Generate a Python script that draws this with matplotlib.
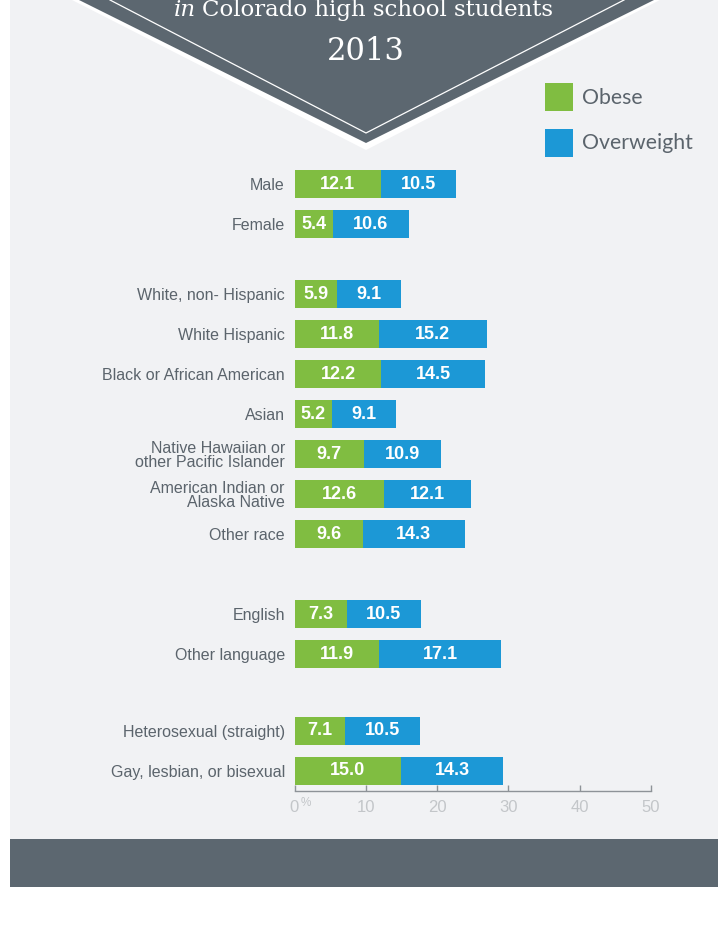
import matplotlib
matplotlib.use("Agg")
import matplotlib.pyplot as plt
from matplotlib.patches import Polygon, Rectangle
import numpy as np

# ---------------------------------------------------------
# DATA
# ---------------------------------------------------------
categories = [
    "Male", "Female",
    "White, non- Hispanic", "White Hispanic", "Black or African American",
    "Asian", "Native Hawaiian or\nother Pacific Islander",
    "American Indian or\nAlaska Native", "Other race",
    "English", "Other language",
    "Heterosexual (straight)", "Gay, lesbian, or bisexual",
]
obese = [12.1, 5.4, 5.9, 11.8, 12.2, 5.2, 9.7, 12.6, 9.6, 7.3, 11.9, 7.1, 15.0]
overweight = [10.5, 10.6, 9.1, 15.2, 14.5, 9.1, 10.9, 12.1, 14.3, 10.5, 17.1, 10.5, 14.3]
group_sizes = [2, 7, 2, 2]
x_ticks = [0, 10, 20, 30, 40, 50]

GREEN = "#80bd41"
BLUE = "#1c98d6"
DARK = "#5c6770"
BG = "#f1f2f4"
LABEL = "#5b646c"
TICK = "#c3c6c9"

# row positions: one unit per bar, extra space between groups
group_gaps = [0.75, 1.0, 0.92]
ypos = []
y = 0.0
for g, n in enumerate(group_sizes):
    for i in range(n):
        ypos.append(y)
        y += 1
    if g < len(group_gaps):
        y += group_gaps[g]
ypos = np.array(ypos)

W, H = 718, 930
fig = plt.figure(figsize=(W / 100, H / 100), dpi=100)
fig.patch.set_facecolor("white")

# ---------------------------------------------------------
# BACKGROUND / DECORATION (pixel coordinates)
# ---------------------------------------------------------
deco = fig.add_axes([0, 0, 1, 1], zorder=0)
deco.set_xlim(0, W)
deco.set_ylim(H, 0)
deco.axis("off")

deco.add_patch(Rectangle((10, 0), W - 10, 839, color=BG, lw=0))
deco.add_patch(Rectangle((10, 839), W - 10, 48, color=DARK, lw=0))

# banner triangle with white border and thin inner line
deco.add_patch(Polygon([(72, 0), (660, 0), (366, 150)], closed=True, color="white", lw=0))
deco.add_patch(Polygon([(79, 0), (654, 0), (366, 143)], closed=True, color=DARK, lw=0))
deco.plot([110, 366, 624], [0, 133, 0], color="white", lw=0.9)

deco.text(196, 16, "in", family="DejaVu Serif", style="italic", fontsize=16.5,
          color="white", ha="right", va="baseline")
deco.text(202, 16, "Colorado high school students", family="DejaVu Serif",
          fontsize=16.5, color="white", ha="left", va="baseline")
deco.text(366, 60, "2013", family="DejaVu Serif", fontsize=22, color="white",
          ha="center", va="baseline")

# legend
deco.add_patch(Rectangle((545, 83.5), 27.5, 27.5, color=GREEN, lw=0))
deco.add_patch(Rectangle((545, 129.5), 27.5, 27.5, color=BLUE, lw=0))
deco.text(582, 98, "Obese", family="Lato", fontsize=15.3, color=LABEL, va="center")
deco.text(582, 143, "Overweight", family="Lato", fontsize=15.3, color=LABEL, va="center")

# ---------------------------------------------------------
# BAR CHART
# ---------------------------------------------------------
row_px = 40.0
top_px, axis_px = 160, 790.7
first_px = 184
ax = fig.add_axes([294.5 / W, 1 - axis_px / H, 356.5 / W, (axis_px - top_px) / H], zorder=1)
ax.set_facecolor("none")

bar_h = 28 / row_px
b1 = ax.barh(ypos, obese, height=bar_h, color=GREEN, lw=0)
b2 = ax.barh(ypos, overweight, left=obese, height=bar_h, color=BLUE, lw=0)
for b in (b1, b2):
    ax.bar_label(b, fmt="{:.1f}", label_type="center", color="white",
                 fontsize=13, fontweight="bold", family="Liberation Sans")

ax.set_xlim(0, 50)
ax.set_ylim((axis_px - first_px) / row_px, (top_px - first_px) / row_px)

ax.set_yticks(ypos)
ax.set_yticklabels(categories, family="Liberation Sans", fontsize=11.5,
                   color=LABEL, linespacing=0.95)
ax.tick_params(axis="y", length=0, pad=7)

ax.set_xticks(x_ticks)
ax.set_xticklabels([str(t) for t in x_ticks], family="Liberation Sans",
                   fontsize=12, color=TICK)
ax.tick_params(axis="x", direction="in", length=4, width=1, color="#8e9398", pad=7)
ax.annotate("%", xy=(0, 0), xycoords=("data", "axes fraction"),
            xytext=(4.5, -9), textcoords="offset points", fontsize=8.5,
            color=TICK, family="Liberation Sans", va="center")

for s in ("top", "right", "left"):
    ax.spines[s].set_visible(False)
ax.spines["bottom"].set_color("#8e9398")
ax.spines["bottom"].set_linewidth(1)

plt.savefig("out.png", dpi=100)
